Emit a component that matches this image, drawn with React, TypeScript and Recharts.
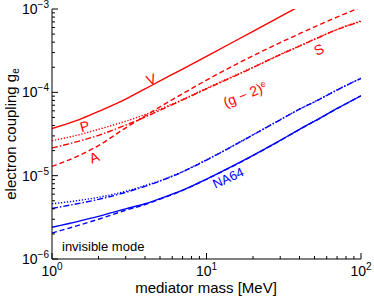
import React from 'react';
import { LineChart, Line, XAxis, YAxis, Customized } from 'recharts';

// mediator mass grid [MeV]
const mass = [1, 1.5, 2, 3, 4, 5, 7, 10, 20, 30, 40, 50, 70, 100];

// (g-2)_e curves (red)
const redV = [3.68e-5, 4.7e-5, 5.9e-5, 8.3e-5, 1.1e-4, 1.37e-4, 1.9e-4, 2.7e-4, 5.4e-4, 8.1e-4, 1.08e-3, 1.35e-3, 1.9e-3, 2.7e-3];
const redA = [1.29e-5, 1.75e-5, 2.3e-5, 3.75e-5, 5.2e-5, 6.7e-5, 9.6e-5, 1.4e-4, 2.75e-4, 3.95e-4, 5.05e-4, 6.1e-4, 8.0e-4, 1.05e-3];
const redP = [2.63e-5, 3.1e-5, 3.6e-5, 4.5e-5, 5.4e-5, 6.3e-5, 8.2e-5, 1.12e-4, 2.0e-4, 2.85e-4, 3.6e-4, 4.35e-4, 5.7e-4, 7.2e-4];
const redS = [2.15e-5, 2.6e-5, 3.05e-5, 4.05e-5, 5.05e-5, 6.1e-5, 8.1e-5, 1.1e-4, 1.98e-4, 2.83e-4, 3.58e-4, 4.32e-4, 5.65e-4, 7.1e-4];

// NA64 limits (blue)
const blueV = [2.4e-6, 2.85e-6, 3.25e-6, 4.0e-6, 4.6e-6, 5.3e-6, 6.7e-6, 9.1e-6, 1.75e-5, 2.65e-5, 3.6e-5, 4.5e-5, 6.4e-5, 9.1e-5];
const blueA = [2.05e-6, 2.55e-6, 3.0e-6, 3.85e-6, 4.5e-6, 5.22e-6, 6.65e-6, 9.05e-6, 1.74e-5, 2.64e-5, 3.59e-5, 4.49e-5, 6.38e-5, 9.08e-5];
const blueP = [4.6e-6, 5.05e-6, 5.5e-6, 6.5e-6, 7.6e-6, 8.7e-6, 1.12e-5, 1.55e-5, 3.1e-5, 4.7e-5, 6.3e-5, 7.7e-5, 1.07e-4, 1.48e-4];
const blueS = [4.05e-6, 4.65e-6, 5.2e-6, 6.3e-6, 7.45e-6, 8.6e-6, 1.11e-5, 1.54e-5, 3.08e-5, 4.68e-5, 6.27e-5, 7.67e-5, 1.065e-4, 1.47e-4];

// axis decades and minor multipliers
const xDecades = [1, 10, 100];
const yDecades = [1e-6, 1e-5, 1e-4, 1e-3];
const minorSteps = [1, 2, 3, 4, 5, 6, 7, 8, 9];

const buildTicks = (decades: number[]) => {
  const out: number[] = [];
  decades.forEach((d, i) => {
    if (i === decades.length - 1) {
      out.push(d);
    } else {
      minorSteps.forEach((s) => out.push(d * s));
    }
  });
  return out;
};

const xTicks = buildTicks(xDecades);
const yTicks = buildTicks(yDecades);

const data = mass.map((m, i) => ({
  m,
  rV: redV[i],
  rA: redA[i],
  rP: redP[i],
  rS: redS[i],
  bV: blueV[i],
  bA: blueA[i],
  bP: blueP[i],
  bS: blueS[i],
}));

const RED = '#ff0000';
const BLUE = '#0000ff';
const FONT = '"Liberation Sans", Arial, Helvetica, sans-serif';

const exponent = (v: number) => Math.round(Math.log10(v));
const isMajor = (v: number) => Math.abs(Math.log10(v) - exponent(v)) < 1e-9;
const fmtExp = (e: number) => (e < 0 ? `\u2212${-e}` : `${e}`);

const BottomTick = (props: any) => {
  const { x, y, payload } = props;
  const major = isMajor(payload.value);
  return (
    <g>
      <line x1={x} x2={x} y1={y} y2={y - (major ? 6 : 3)} stroke="#000" />
      {major && (
        <text x={x} y={y + 17} textAnchor="middle" fontSize={14} fontFamily={FONT} fill="#000">
          10<tspan dy={-6} fontSize={10}>{fmtExp(exponent(payload.value))}</tspan>
        </text>
      )}
    </g>
  );
};

const TopTick = (props: any) => {
  const { x, y, payload } = props;
  const major = isMajor(payload.value);
  return <line x1={x} x2={x} y1={y} y2={y + (major ? 6 : 3)} stroke="#000" />;
};

const LeftTick = (props: any) => {
  const { x, y, payload } = props;
  const major = isMajor(payload.value);
  return (
    <g>
      <line x1={x} x2={x + (major ? 6 : 3)} y1={y} y2={y} stroke="#000" />
      {major && (
        <text x={x - 3} y={y + 5} textAnchor="end" fontSize={14} fontFamily={FONT} fill="#000">
          10<tspan dy={-6} fontSize={10}>{fmtExp(exponent(payload.value))}</tspan>
        </text>
      )}
    </g>
  );
};

const RightTick = (props: any) => {
  const { x, y, payload } = props;
  const major = isMajor(payload.value);
  return <line x1={x} x2={x - (major ? 6 : 3)} y1={y} y2={y} stroke="#000" />;
};

const Annotations = () => (
  <g fontFamily={FONT}>
    <text x={206} y={293} textAnchor="middle" fontSize={15} fill="#000">
      mediator mass [MeV]
    </text>
    <text transform="translate(16,134) rotate(-90)" textAnchor="middle" fontSize={15} fill="#000">
      electron coupling g<tspan dy={3} fontSize={10}>e</tspan>
    </text>
    <text x={62} y={251} fontSize={13} fill="#000">invisible mode</text>
    <text transform="translate(153,84) rotate(-20)" textAnchor="middle" fontSize={14} fill={RED}>V</text>
    <text transform="translate(86,131) rotate(-15)" textAnchor="middle" fontSize={14} fill={RED}>P</text>
    <text transform="translate(96,162) rotate(-22)" textAnchor="middle" fontSize={14} fill={RED}>A</text>
    <text transform="translate(321,54) rotate(-25)" textAnchor="middle" fontSize={14} fill={RED}>S</text>
    <text transform="translate(247,99) rotate(-22)" textAnchor="middle" fontSize={14} fill={RED}>
      (g − 2)<tspan dy={-5} fontSize={9}>e</tspan>
    </text>
    <text transform="translate(230,182) rotate(-25)" textAnchor="middle" fontSize={13} fill={BLUE}>NA64</text>
  </g>
);

export default function App() {
  return (
    <div style={{ position: 'absolute', left: 0, top: 0, background: '#fff' }}>
      <LineChart width={374} height={298} data={data} margin={{ top: 9, right: 13, left: 0, bottom: 0 }}>
        <XAxis
          dataKey="m"
          type="number"
          scale="log"
          domain={[1, 100]}
          allowDataOverflow
          ticks={xTicks}
          interval={0}
          tickSize={0}
          tickMargin={0}
          tick={BottomTick}
          height={39}
          axisLine={{ stroke: '#000' }}
        />
        <XAxis
          xAxisId="top"
          orientation="top"
          dataKey="m"
          type="number"
          scale="log"
          domain={[1, 100]}
          allowDataOverflow
          ticks={xTicks}
          interval={0}
          tickSize={0}
          tickMargin={0}
          tick={TopTick}
          height={0}
          axisLine={{ stroke: '#000' }}
        />
        <YAxis
          type="number"
          scale="log"
          domain={[1e-6, 1e-3]}
          allowDataOverflow
          ticks={yTicks}
          interval={0}
          tickSize={0}
          tickMargin={0}
          tick={LeftTick}
          width={52}
          axisLine={{ stroke: '#000' }}
        />
        <YAxis
          yAxisId="right"
          orientation="right"
          type="number"
          scale="log"
          domain={[1e-6, 1e-3]}
          allowDataOverflow
          ticks={yTicks}
          interval={0}
          tickSize={0}
          tickMargin={0}
          tick={RightTick}
          width={0}
          axisLine={{ stroke: '#000' }}
        />
        <Line dataKey="rV" type="monotone" stroke={RED} strokeWidth={1.4} dot={false} isAnimationActive={false} />
        <Line dataKey="rA" type="monotone" stroke={RED} strokeWidth={1.4} strokeDasharray="5 3" dot={false} isAnimationActive={false} />
        <Line dataKey="rP" type="monotone" stroke={RED} strokeWidth={1.4} strokeDasharray="1.3 1.7" dot={false} isAnimationActive={false} />
        <Line dataKey="rS" type="monotone" stroke={RED} strokeWidth={1.4} strokeDasharray="6 2 1.5 2" dot={false} isAnimationActive={false} />
        <Line dataKey="bV" type="monotone" stroke={BLUE} strokeWidth={1.4} dot={false} isAnimationActive={false} />
        <Line dataKey="bA" type="monotone" stroke={BLUE} strokeWidth={1.4} strokeDasharray="5 3" dot={false} isAnimationActive={false} />
        <Line dataKey="bP" type="monotone" stroke={BLUE} strokeWidth={1.4} strokeDasharray="1.3 1.7" dot={false} isAnimationActive={false} />
        <Line dataKey="bS" type="monotone" stroke={BLUE} strokeWidth={1.4} strokeDasharray="6 2 1.5 2" dot={false} isAnimationActive={false} />
        <Customized component={Annotations} />
      </LineChart>
    </div>
  );
}
